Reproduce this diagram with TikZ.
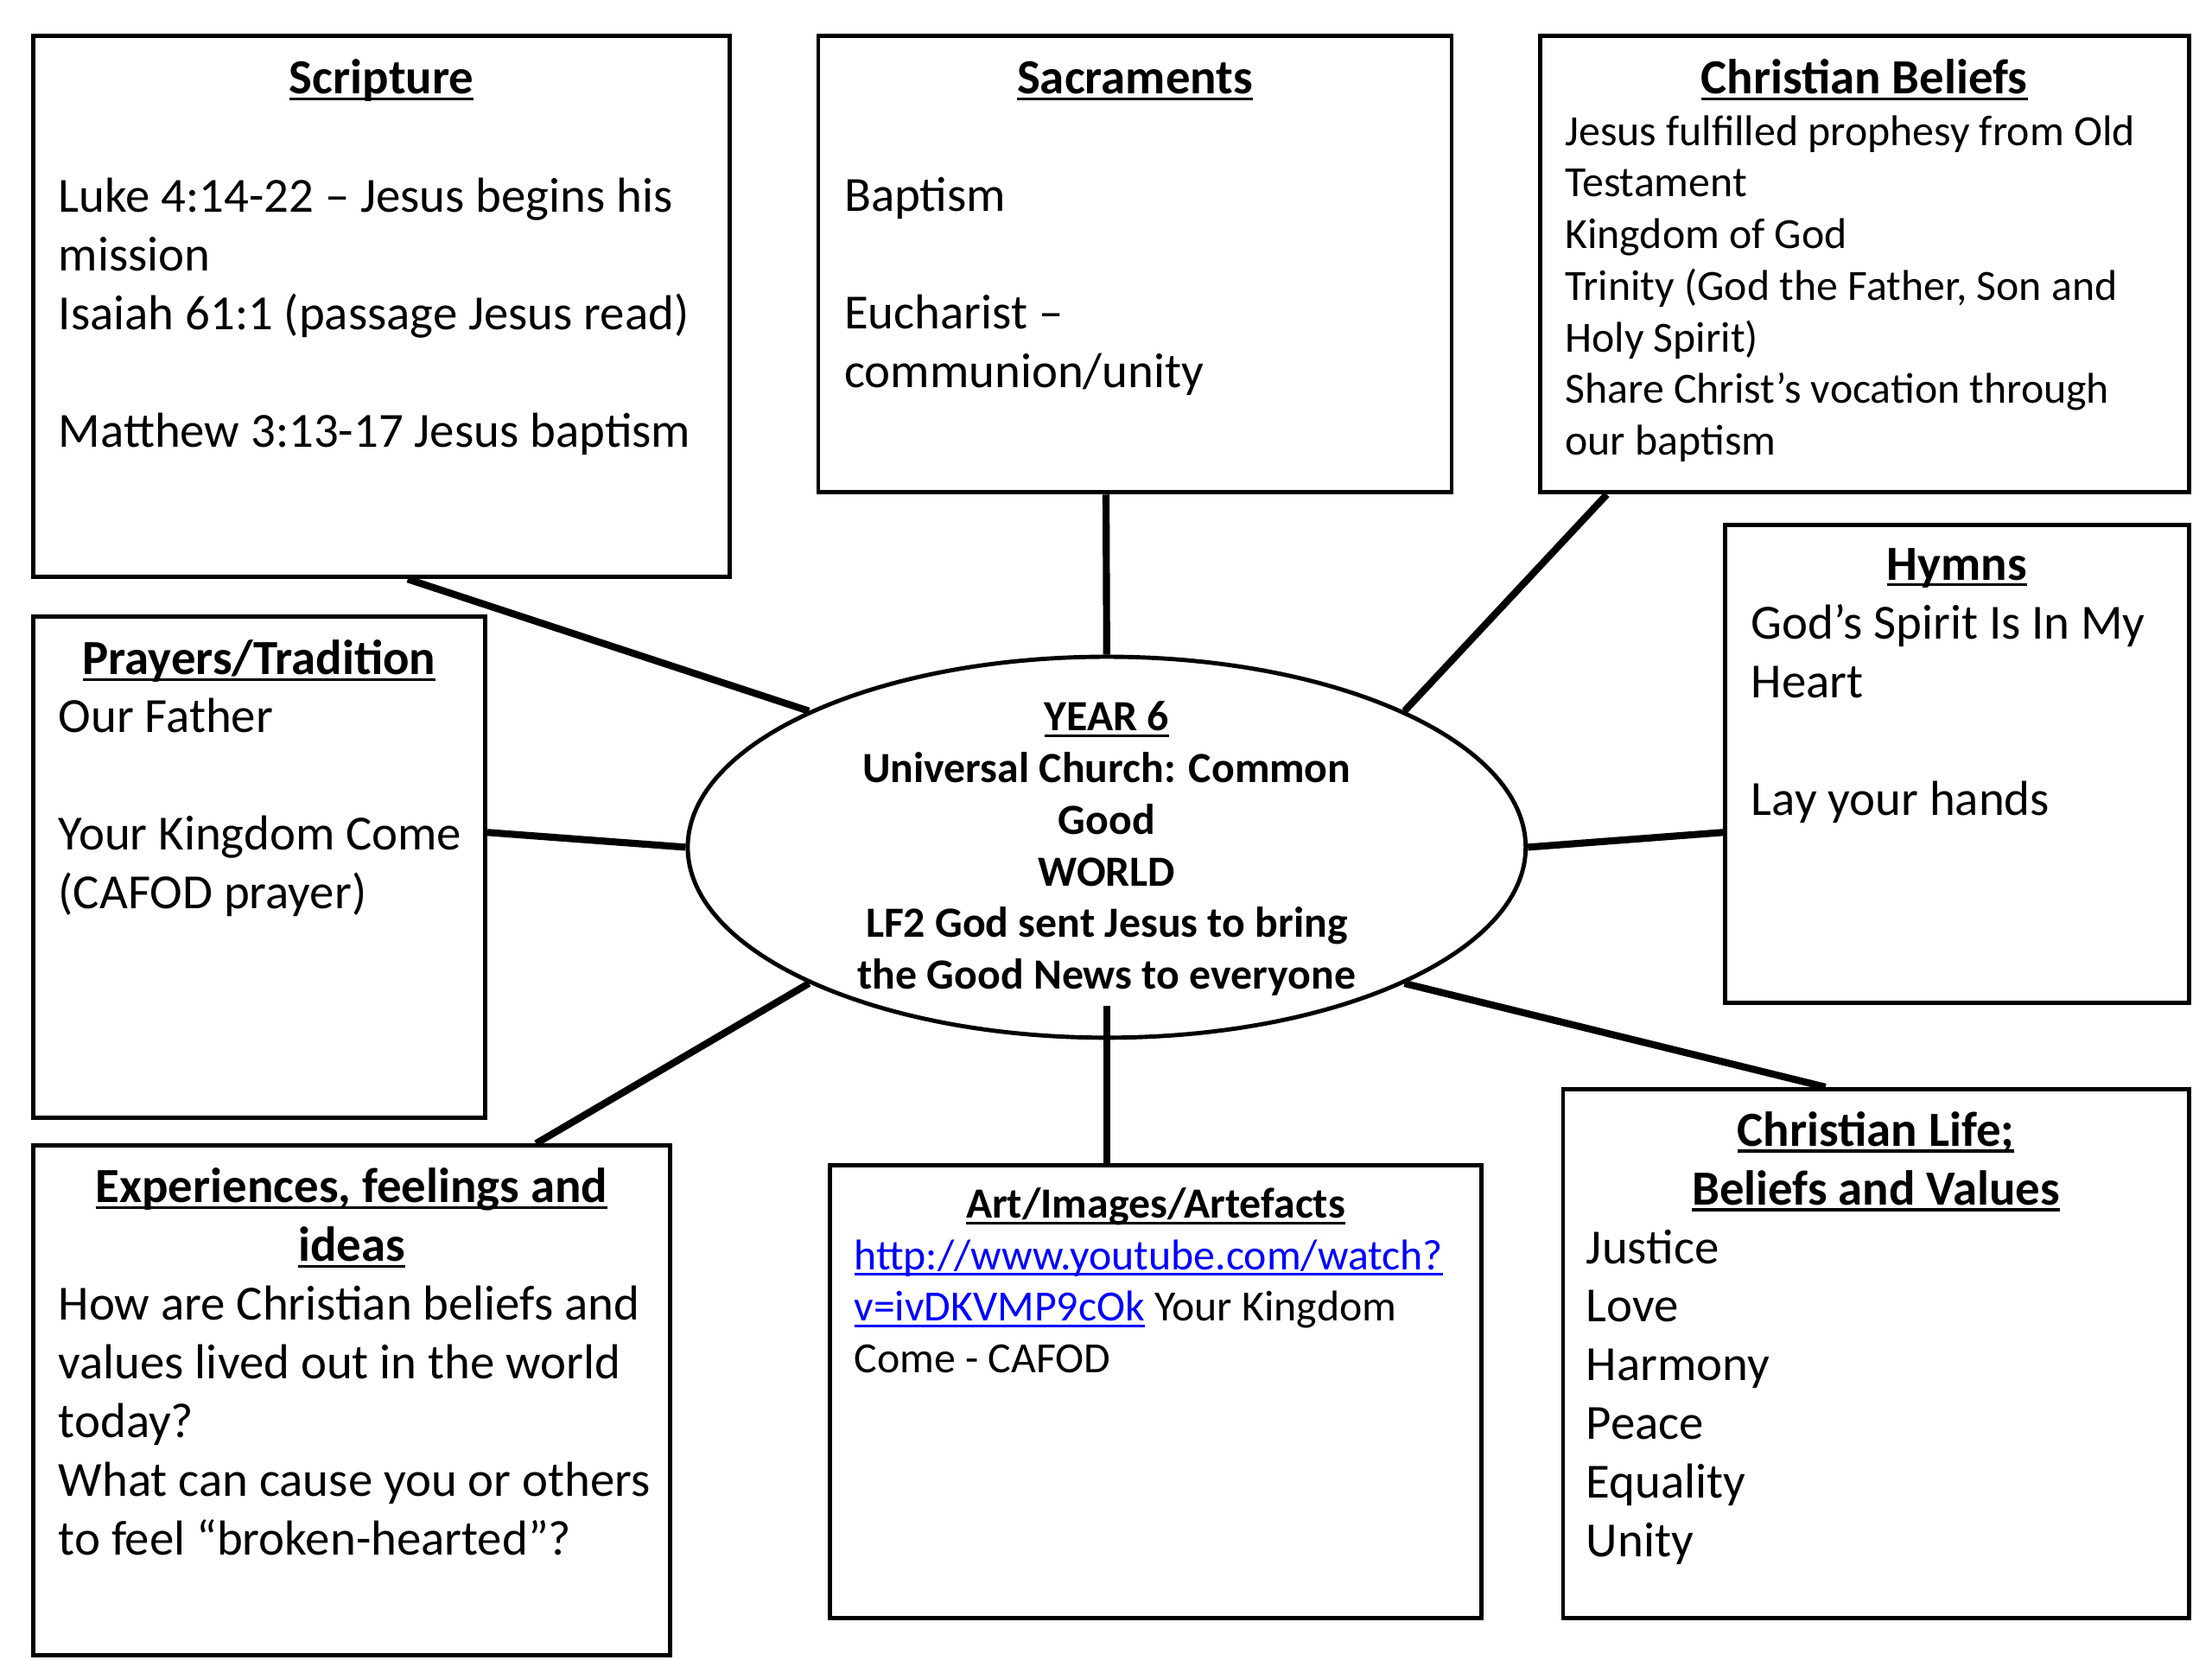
\documentclass[tikz,border=0pt]{standalone}
\usepackage{fontspec}
\setmainfont{Carlito}
\usetikzlibrary{shapes.geometric}
\definecolor{link1}{RGB}{0,0,255}
\newcommand{\bigtxt}{\fontsize{34.8}{41.6}\selectfont}
\newcommand{\smalltxt}{\fontsize{30.5}{36.6}\selectfont}
\newcommand{\ulword}[1]{\leavevmode\setbox0\hbox{#1}\rlap{\rule[-4.5pt]{\wd0}{2pt}}\box0}

\begin{document}
\begin{tikzpicture}[x=1pt, y=-1pt, line width=3pt,
  box/.style={rectangle, draw, fill=white, inner sep=0pt},
  title/.style={inner sep=0pt, anchor=base, align=center, font=\bigtxt\bfseries},
  body/.style={inner sep=0pt, anchor=base west, align=left, font=\bigtxt},
  conn/.style={line width=5pt}]
  \fill[white] (0,0) rectangle (1568,1176);
  % boxes
  \node[box, minimum width=494, minimum height=383.5] (scr) at (270.5,217.25) {};
  \node[box, minimum width=449, minimum height=323.5] (sac) at (804.5,187.25) {};
  \node[box, minimum width=460, minimum height=323.5] (cb) at (1321.5,187.25) {};
  \node[box, minimum width=328.5, minimum height=339] (hym) at (1387.25,541.5) {};
  \node[box, minimum width=320.5, minimum height=355] (pra) at (183.75,614.5) {};
  \node[box, minimum width=451.5, minimum height=361] (exp) at (249.25,992.5) {};
  \node[box, minimum width=461.5, minimum height=321] (art) at (819.25,986.5) {};
  \node[box, minimum width=443.5, minimum height=375] (cl) at (1329.75,959.5) {};
  \node[ellipse, draw, fill=white, inner sep=0pt, minimum width=594, minimum height=270] (hub) at (784.5,600.5) {};
  % texts (placed at the baseline of their last line)
  \node[title] (scrT) at (270.5,66.5) {\ulword{Scripture}};
  \node[body] (scrB) at (40,317) {Luke 4:14-22 – Jesus begins his\\ mission\\ Isaiah 61:1 (passage Jesus read)\\[41.6pt] Matthew 3:13-17 Jesus baptism};
  \node[title] (sacT) at (804.5,66.5) {\ulword{Sacraments}};
  \node[body] (sacB) at (597,274.5) {Baptism\\[41.6pt] Eucharist –\\ communion/unity};
  \node[title] (cbT) at (1321.5,66.5) {\ulword{Christian Beliefs}};
  \node[body, font=\smalltxt] (cbB) at (1108,322.5) {Jesus fulfilled prophesy from Old\\ Testament\\ Kingdom of God\\ Trinity (God the Father, Son and\\ Holy Spirit)\\ Share Christ’s vocation through\\ our baptism};
  \node[title] (hymT) at (1387.25,411) {\ulword{Hymns}};
  \node[body] (hymB) at (1240,578) {God’s Spirit Is In My\\ Heart\\[41.6pt] Lay your hands};
  \node[title] (praT) at (183.75,478) {\ulword{Prayers/Tradition}};
  \node[body] (praB) at (40,644) {Our Father\\[41.6pt] Your Kingdom Come\\ (CAFOD prayer)};
  \node[title, font=\smalltxt\bfseries] (hubT) at (784.5,701) {\ulword{YEAR 6}\\ Universal Church: Common\\ Good\\ WORLD\\ LF2 God sent Jesus to bring\\ the Good News to everyone};
  \node[title] (expT) at (249.25,894) {\ulword{Experiences, feelings and}\\ \ulword{ideas}};
  \node[body] (expB) at (40,1102) {How are Christian beliefs and\\ values lived out in the world\\ today?\\ What can cause you or others\\ to feel “broken-hearted”?};
  \node[title, font=\smalltxt\bfseries] (artT) at (819.25,863.5) {\ulword{Art/Images/Artefacts}};
  \node[body, font=\smalltxt] (artB) at (604,973) {{\color{link1}\ulword{http://www.youtube.com/watch?}}\\ {\color{link1}\ulword{v=ivDKVMP9cOk}} Your Kingdom\\ Come - CAFOD};
  \node[title] (clT) at (1329.75,854) {\ulword{Christian Life;}\\ \ulword{Beliefs and Values}};
  \node[body] (clB) at (1123,1103.5) {Justice\\ Love\\ Harmony\\ Peace\\ Equality\\ Unity};
  % connectors
  \foreach \from/\dx/\dy/\to/\ty in {scr.south/18.5/0/hub.north west/0, sac.south/-20.5/0/hub.north/0,
      cb.south/-182.5/0/hub.north east/0, hym.west/0/-48.5/hub.east/0,
      pra.east/0/24.5/hub.west/0, exp.north/130.75/0/hub.south west/0,
      art.north/-34.75/0/hub.south/24, cl.north/-35.75/0/hub.south east/0}
    \draw[conn] ([xshift=\dx pt, yshift=\dy pt]\from) -- ([yshift=\ty pt]\to);
\end{tikzpicture}
\end{document}
